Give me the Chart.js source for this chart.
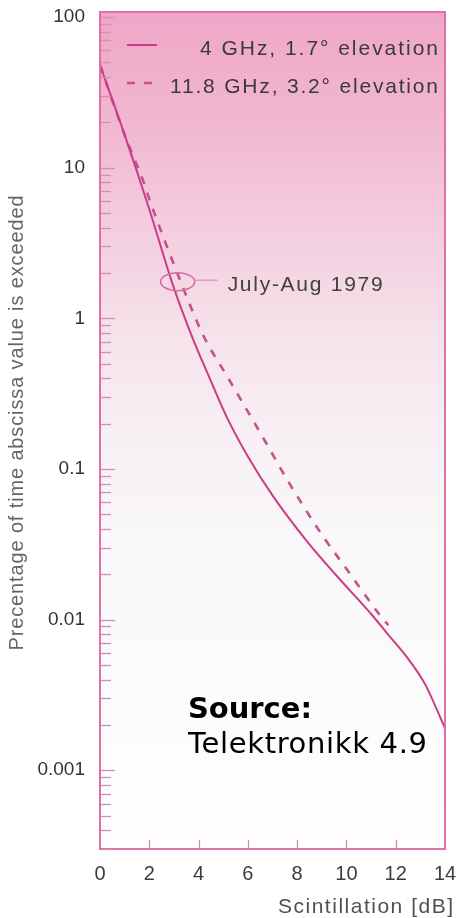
<!DOCTYPE html>
<html>
<head>
<meta charset="utf-8">
<title>Scintillation exceedance</title>
<script src="https://cdn.jsdelivr.net/npm/chart.js@4/dist/chart.umd.min.js"></script>
<style>
  html, body { margin: 0; padding: 0; background: #ffffff; }
  canvas { display: block; }
</style>
</head>
<body>
<canvas id="chart" width="460" height="918"></canvas>
<script>
// Scintillation level [dB] against percentage of time it is exceeded
const scintDb4GHz = [0, 1, 2, 2.96, 3.77, 4.38, 5.15, 6.0, 7.02, 8.4, 9.62, 10.96, 11.65, 12.5, 13.2, 14];
const pct4GHz     = [48, 16.5, 5.3, 1.66, 0.73, 0.426, 0.22, 0.121, 0.066, 0.0331, 0.0194, 0.0111, 0.0081, 0.0055, 0.0037, 0.0019];

const scintDb118GHz = [0, 1, 1.75, 2.03, 3.33, 4.18, 5.15, 5.97, 6.78, 7.63, 9.05, 10.02, 11.44, 11.7];
const pct118GHz     = [48, 16.5, 8.2, 6.0, 1.66, 0.776, 0.414, 0.245, 0.145, 0.083, 0.0357, 0.0215, 0.0103, 0.0092];

const seriesLabels = ['4 GHz, 1.7\u00B0 elevation', '11.8 GHz, 3.2\u00B0 elevation'];

const xTickValues = [0, 2, 4, 6, 8, 10, 12, 14];
const yTickValues = [0.001, 0.01, 0.1, 1, 10, 100];
const yTickLabels = ['0.001', '0.01', '0.1', '1', '10', '100'];

const xTitle = 'Scintillation [dB]';
const yTitle = 'Precentage of time abscissa value is exceeded';

const periodNote = 'July-Aug 1979';
const periodAt = { x: 3.15, y: 1.75 };

const sourceHead = 'Source:';
const sourceBody = 'Telektronikk 4.9';

// ---------------------------------------------------------------------------
const FONT = '"Liberation Sans", Arial, Helvetica, sans-serif';
const SRC_FONT = '"DejaVu Sans", Verdana, sans-serif';
const LINE_PINK = 'rgb(204, 60, 134)';
const DASH_PINK = 'rgb(194, 82, 144)';
const FRAME_PINK = 'rgb(224, 112, 168)';
const TICK_PINK = 'rgb(212, 140, 176)';

function pairs(xs, ys) {
  return xs.map((x, i) => ({ x: x, y: ys[i] }));
}

// Draw text widened (by letter spacing) to a given width.
function spacedText(ctx, text, x, y, font, width, align) {
  ctx.font = font;
  if ('letterSpacing' in ctx) ctx.letterSpacing = '0px';
  const w = ctx.measureText(text).width;
  const n = text.length;
  const x0 = align === 'right' ? x - width : (align === 'center' ? x - width / 2 : x);
  ctx.textAlign = 'left';
  if ('letterSpacing' in ctx) {
    ctx.letterSpacing = ((width - w) / (n - 1)) + 'px';
    ctx.fillText(text, x0, y);
    ctx.letterSpacing = '0px';
  } else {
    ctx.save();
    ctx.translate(x0, y);
    ctx.scale(width / w, 1);
    ctx.fillText(text, 0, 0);
    ctx.restore();
  }
}

const paperPlugin = {
  id: 'paper',
  beforeDraw(chart) {
    const { ctx, chartArea: a } = chart;
    ctx.save();
    ctx.fillStyle = '#ffffff';
    ctx.fillRect(0, 0, chart.width, chart.height);
    const g = ctx.createLinearGradient(0, a.top, 0, a.bottom);
    g.addColorStop(0.00, 'rgb(239, 166, 198)');
    g.addColorStop(0.15, 'rgb(241, 186, 209)');
    g.addColorStop(0.30, 'rgb(244, 212, 226)');
    g.addColorStop(0.40, 'rgb(246, 228, 236)');
    g.addColorStop(0.50, 'rgb(247, 239, 243)');
    g.addColorStop(0.62, 'rgb(249, 247, 248)');
    g.addColorStop(1.00, 'rgb(255, 255, 255)');
    ctx.fillStyle = g;
    ctx.fillRect(a.left, a.top, a.right - a.left, a.bottom - a.top);
    ctx.restore();
  },
  afterDraw(chart) {
    const { ctx, chartArea: a } = chart;
    const xs = chart.scales.x, ys = chart.scales.y;
    ctx.save();

    // frame
    ctx.strokeStyle = FRAME_PINK;
    ctx.lineWidth = 2;
    ctx.strokeRect(a.left, a.top, a.right - a.left, a.bottom - a.top);

    // inward log ticks on the ordinate
    ctx.strokeStyle = TICK_PINK;
    ctx.lineWidth = 1.3;
    for (let e = -4; e <= 2; e++) {
      for (let k = 1; k <= 9; k++) {
        const v = k * Math.pow(10, e);
        if (v < ys.min || v > ys.max) continue;
        const py = Math.round(ys.getPixelForValue(v)) + 0.5;
        const len = k === 1 ? 15 : 11;
        ctx.beginPath();
        ctx.moveTo(a.left + 1, py);
        ctx.lineTo(a.left + len, py);
        ctx.stroke();
      }
    }
    // inward ticks on the abscissa
    xTickValues.forEach(v => {
      if (v <= xs.min || v >= xs.max) return;
      const px = Math.round(xs.getPixelForValue(v)) + 0.5;
      ctx.beginPath();
      ctx.moveTo(px, a.bottom - 1);
      ctx.lineTo(px, a.bottom - 9);
      ctx.stroke();
    });

    // legend inside the plot, top right
    ctx.textBaseline = 'middle';
    const legendRows = [
      { lineY: a.top + 33, textY: a.top + 37, width: 238 },
      { lineY: a.top + 71, textY: a.top + 75, width: 268 }
    ];
    chart.data.datasets.forEach((ds, i) => {
      const r = legendRows[i];
      ctx.strokeStyle = ds.borderColor;
      ctx.lineWidth = ds.borderWidth;
      ctx.setLineDash(ds.borderDash || []);
      ctx.beginPath();
      ctx.moveTo(a.left + 27, r.lineY);
      ctx.lineTo(a.left + 57, r.lineY);
      ctx.stroke();
      ctx.setLineDash([]);
      ctx.fillStyle = '#3a3a3a';
      spacedText(ctx, ds.label, a.right - 7, r.textY, '21px ' + FONT, r.width, 'right');
    });

    // period note: ellipse round the curves with a leader
    const cx = xs.getPixelForValue(periodAt.x);
    const cy = ys.getPixelForValue(periodAt.y);
    ctx.strokeStyle = 'rgb(218, 108, 164)';
    ctx.lineWidth = 1.6;
    ctx.beginPath();
    ctx.ellipse(cx, cy, 17, 9, 0, 0, Math.PI * 2);
    ctx.stroke();
    ctx.strokeStyle = 'rgb(204, 150, 178)';
    ctx.lineWidth = 1.2;
    ctx.beginPath();
    ctx.moveTo(cx + 17, cy - 1.5);
    ctx.lineTo(cx + 40, cy - 1.5);
    ctx.stroke();
    ctx.fillStyle = '#404040';
    spacedText(ctx, periodNote, cx + 50, cy + 3, '21px ' + FONT, 155, 'left');

    // axis titles
    ctx.fillStyle = '#666666';
    ctx.save();
    ctx.translate(17, 423);
    ctx.rotate(-Math.PI / 2);
    spacedText(ctx, yTitle, 0, 0, '20px ' + FONT, 455, 'center');
    ctx.restore();
    ctx.fillStyle = '#505050';
    spacedText(ctx, xTitle, 453, 907, '21px ' + FONT, 175, 'right');

    // source note
    ctx.fillStyle = '#000000';
    ctx.textBaseline = 'alphabetic';
    spacedText(ctx, sourceHead, 188, 718, 'bold 29px ' + SRC_FONT, 124, 'left');
    spacedText(ctx, sourceBody, 188, 753, '29px ' + SRC_FONT, 239, 'left');

    ctx.restore();
  }
};

new Chart(document.getElementById('chart'), {
  type: 'line',
  data: {
    datasets: [
      {
        label: seriesLabels[0],
        data: pairs(scintDb4GHz, pct4GHz),
        borderColor: LINE_PINK,
        borderWidth: 2,
        pointRadius: 0,
        cubicInterpolationMode: 'monotone',
        fill: false
      },
      {
        label: seriesLabels[1],
        data: pairs(scintDb118GHz, pct118GHz),
        borderColor: DASH_PINK,
        borderWidth: 2.6,
        borderDash: [8, 9],
        pointRadius: 0,
        cubicInterpolationMode: 'monotone',
        fill: false
      }
    ]
  },
  options: {
    responsive: false,
    animation: false,
    devicePixelRatio: 1,
    layout: { autoPadding: false, padding: { top: 12, right: 15, left: 0, bottom: 0 } },
    plugins: { legend: { display: false }, tooltip: { enabled: false } },
    scales: {
      x: {
        type: 'linear',
        min: 0,
        max: 14,
        afterBuildTicks: s => { s.ticks = xTickValues.map(v => ({ value: v })); },
        afterFit: s => { s.height = 69; s.paddingLeft = 0; s.paddingRight = 0; },
        grid: { display: false, drawTicks: false },
        border: { display: false },
        ticks: {
          padding: 13,
          color: '#3c3c3c',
          font: { family: FONT, size: 20 },
          maxRotation: 0,
          autoSkip: false
        }
      },
      y: {
        type: 'logarithmic',
        min: 0.00033,
        max: 108,
        afterBuildTicks: s => { s.ticks = yTickValues.map(v => ({ value: v })); },
        afterFit: s => { s.width = 100; s.paddingTop = 0; s.paddingBottom = 0; },
        grid: { display: false, drawTicks: false },
        border: { display: false },
        ticks: {
          padding: 15,
          color: '#333333',
          font: { family: FONT, size: 19 },
          autoSkip: false,
          callback: (v) => {
            const i = yTickValues.findIndex(t => Math.abs(t - v) / t < 1e-6);
            return i >= 0 ? yTickLabels[i] : '';
          }
        }
      }
    }
  },
  plugins: [paperPlugin]
});
</script>
</body>
</html>
